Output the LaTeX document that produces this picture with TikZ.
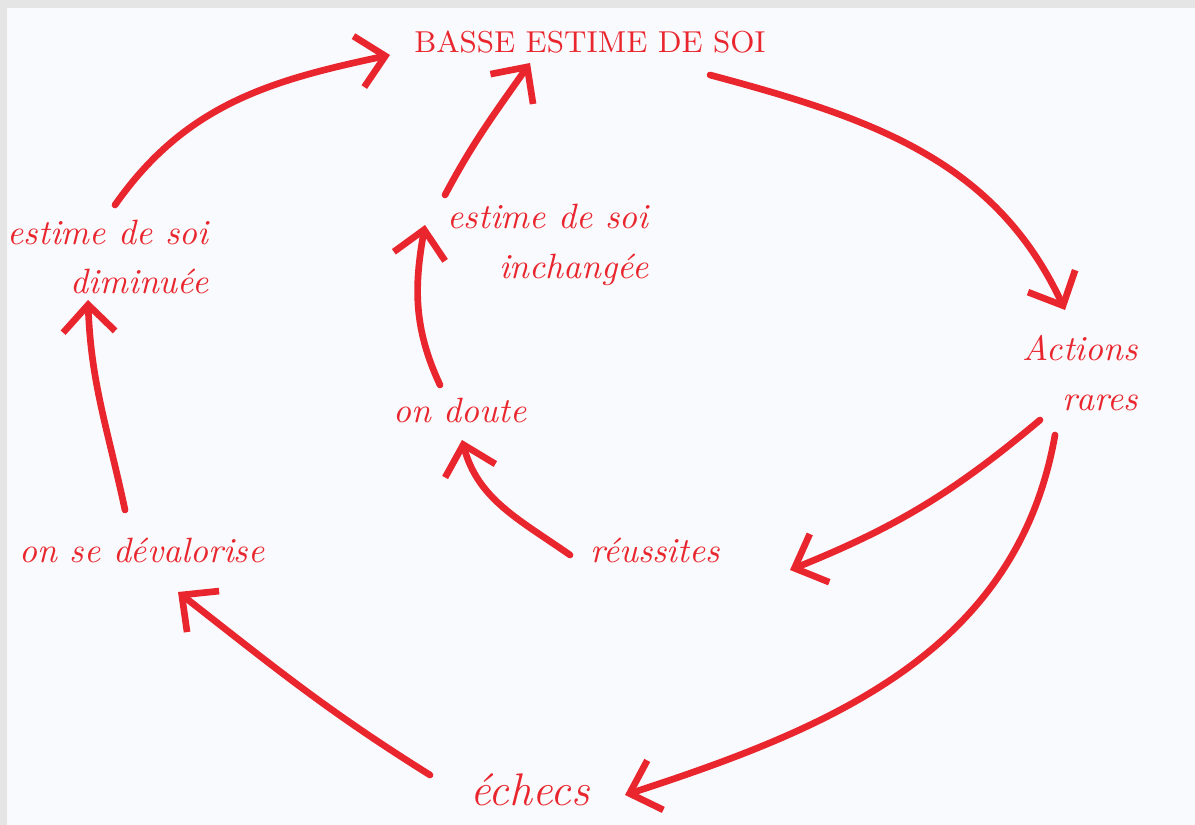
\documentclass[tikz,border=0pt]{standalone}
\usepackage{tikz}
\usetikzlibrary{arrows.meta}
\definecolor{feutre}{RGB}{233,38,46}
\definecolor{papier}{RGB}{249,250,253}

\begin{document}
\begin{tikzpicture}[x=0.01cm,y=0.01cm,
    >={Straight Barb[length=2.7mm,width=5.2mm,line width=1.9pt]},
    fleche/.style={draw=feutre,line width=1.9pt,line cap=round,->},
    mot/.style={text=feutre,font=\itshape\fontsize{10}{14}\selectfont,align=center,inner sep=1pt}]
    \useasboundingbox (0,0) rectangle (1195,825);
    \fill[papier] (0,0) rectangle (1195,825);
    \fill[black!10] (0,817) rectangle (1195,825);
    \fill[black!10] (0,0) rectangle (7,825);

    % les etapes du cercle
    \node[mot,font=\fontsize{8.6}{12}\selectfont] (base) at (590,783) {BASSE ESTIME DE SOI};
    \node[mot,align=right] (actions) at (1080,452) {Actions\\rares};
    \node[mot] (reussites) at (655,275) {réussites};
    \node[mot,font=\itshape\fontsize{13}{15}\selectfont] (echecs) at (530,35) {échecs};
    \node[mot] (devalorise) at (142,275) {on se dévalorise};
    \node[mot,align=right] (diminuee) at (108,568) {estime de soi\\diminuée};
    \node[mot] (doute) at (460,414) {on doute};
    \node[mot,align=right] (inchangee) at (548,580) {estime de soi\\inchangée};

    % boucle exterieure
    \draw[fleche] ([shift={(7,52)}]diminuee.center) to[out=55,in=192] ([shift={(-200,-13)}]base.center);
    \draw[fleche] ([shift={(120,-33)}]base.center) to[out=-15,in=115] ([shift={(-15,63)}]actions.center);
    \draw[fleche] ([shift={(-25,-62)}]actions.center) to[out=-100,in=18] ([shift={(95,-5)}]echecs.center);
    \draw[fleche] ([shift={(-100,15)}]echecs.center) to[out=148,in=-38] ([shift={(36,-42)}]devalorise.center);
    \draw[fleche] ([shift={(-17,40)}]devalorise.center) to[out=102,in=-88] ([shift={(-20,-43)}]diminuee.center);

    % boucle interieure
    \draw[fleche] ([shift={(-40,-47)}]actions.center) to[out=220,in=22] ([shift={(135,-20)}]reussites.center);
    \draw[fleche] ([shift={(-85,-5)}]reussites.center) to[out=145,in=-75] ([shift={(2,-29)}]doute.center);
    \draw[fleche] ([shift={(-20,26)}]doute.center) to[out=115,in=-100] ([shift={(-123,20)}]inchangee.center);
    \draw[fleche] ([shift={(-103,50)}]inchangee.center) to[out=62,in=235] ([shift={(-60,-21)}]base.center);
\end{tikzpicture}
\end{document}
